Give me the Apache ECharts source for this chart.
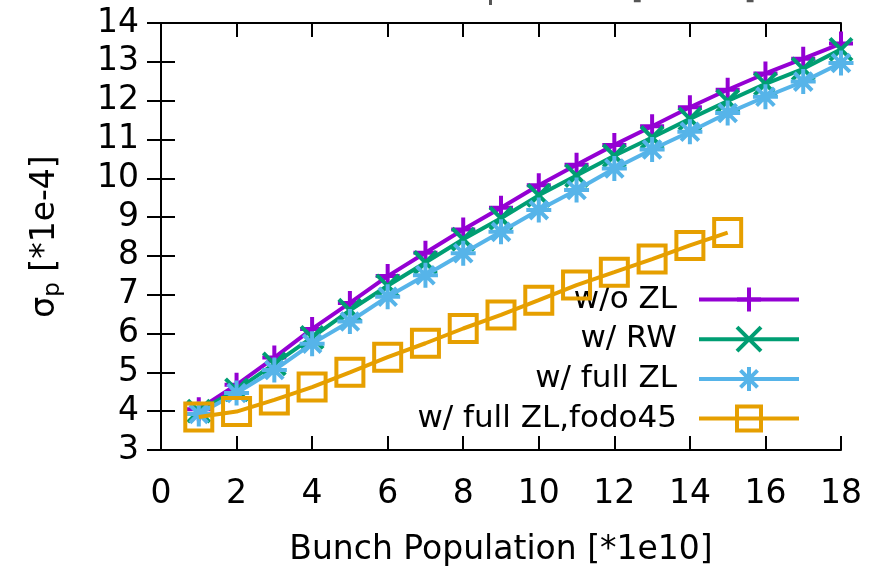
<!DOCTYPE html>
<html>
<head>
<meta charset="utf-8">
<script src="https://cdn.jsdelivr.net/npm/echarts@6/dist/echarts.min.js"></script>
<style>
  html, body { margin: 0; padding: 0; background: #fff; }
  #chart { width: 877px; height: 566px; }
</style>
</head>
<body>
<div id="chart"></div>
<script>
// Bunch population (units of 1e10)
const population = [1, 2, 3, 4, 5, 6, 7, 8, 9, 10, 11, 12, 13, 14, 15, 16, 17, 18];
const populationFodo = [1, 2, 3, 4, 5, 6, 7, 8, 9, 10, 11, 12, 13, 14, 15];

// Energy spread sigma_p (units of 1e-4)
const sigmaNoZL = [4.05, 4.68, 5.38, 6.12, 6.79, 7.48, 8.08, 8.68, 9.24, 9.82, 10.35, 10.86, 11.34, 11.83, 12.28, 12.70, 13.08, 13.47];
const sigmaRW = [4.00, 4.55, 5.22, 5.90, 6.60, 7.23, 7.83, 8.43, 8.97, 9.56, 10.07, 10.58, 11.05, 11.53, 11.99, 12.43, 12.82, 13.32];
const sigmaFullZL = [3.93, 4.47, 5.06, 5.74, 6.31, 6.95, 7.50, 8.07, 8.62, 9.18, 9.70, 10.25, 10.74, 11.20, 11.68, 12.10, 12.49, 12.97];
const sigmaFodo45 = [3.85, 3.99, 4.29, 4.62, 5.00, 5.39, 5.75, 6.13, 6.48, 6.86, 7.25, 7.58, 7.92, 8.27, 8.60];

const seriesNames = ['w/o ZL', 'w/ RW', 'w/ full ZL', 'w/ full ZL,fodo45'];
const xTicks = [0, 2, 4, 6, 8, 10, 12, 14, 16, 18];
const yTicks = [3, 4, 5, 6, 7, 8, 9, 10, 11, 12, 13, 14];

const FONT = 'DejaVu Sans';
const FS = 33;
const colors = ['#9400d3', '#009e73', '#56b4e9', '#e69f00'];
const symbols = [
  'path://M0,-1L0,1M-1,0L1,0',
  'path://M-1,-1L1,1M-1,1L1,-1',
  'path://M0,-1L0,1M-1,0L1,0M-0.71,-0.71L0.71,0.71M-0.71,0.71L0.71,-0.71',
  'path://M-1,-1L1,-1L1,1L-1,1Z'
];
const symbolSizes = [24, 22, 25, 27];

function pairs(xs, ys) {
  return xs.map((x, i) => [x, ys[i]]);
}
const seriesData = [
  pairs(population, sigmaNoZL),
  pairs(population, sigmaRW),
  pairs(population, sigmaFullZL),
  pairs(populationFodo, sigmaFodo45)
];

const axisLine = { show: true, lineStyle: { color: '#000', width: 2 } };
const axisTick = { show: true, inside: true, length: 14, lineStyle: { color: '#000', width: 2 } };

const chart = echarts.init(document.getElementById('chart'), null, { renderer: 'canvas' });

chart.setOption({
  backgroundColor: '#fff',
  animation: false,
  textStyle: { fontFamily: FONT },
  grid: { left: 161, right: 36, top: 23, bottom: 116, containLabel: false, outerBoundsMode: 'none' },
  graphic: [{
    type: 'text',
    left: 333,
    top: -27,
    style: { text: 'Bunch Population [*1e10]', font: FS + 'px "DejaVu Sans"', fill: '#555' }
  }],
  xAxis: [{
    type: 'value',
    min: xTicks[0],
    max: xTicks[xTicks.length - 1],
    interval: xTicks[1] - xTicks[0],
    position: 'bottom',
    name: 'Bunch Population [*1e10]',
    nameLocation: 'middle',
    nameGap: 84,
    nameTextStyle: { fontSize: FS, fontFamily: FONT, color: '#000' },
    axisLine: axisLine,
    axisTick: axisTick,
    axisLabel: { fontSize: FS, fontFamily: FONT, color: '#000', margin: 28 },
    splitLine: { show: false }
  }, {
    type: 'value',
    min: xTicks[0],
    max: xTicks[xTicks.length - 1],
    interval: xTicks[1] - xTicks[0],
    position: 'top',
    axisLine: axisLine,
    axisTick: axisTick,
    axisLabel: { show: false },
    splitLine: { show: false }
  }],
  yAxis: [{
    type: 'value',
    min: yTicks[0],
    max: yTicks[yTicks.length - 1],
    interval: 1,
    position: 'left',
    name: '{a|σ}{s|p}{a| [*1e-4]}',
    nameLocation: 'middle',
    nameGap: 96,
    nameRotate: 90,
    nameTextStyle: {
      color: '#000',
      rich: {
        a: { fontSize: FS, fontFamily: FONT, color: '#000', lineHeight: 40, verticalAlign: 'middle' },
        s: { fontSize: 23, fontFamily: FONT, color: '#000', lineHeight: 22, verticalAlign: 'bottom' }
      }
    },
    axisLine: axisLine,
    axisTick: axisTick,
    axisLabel: { fontSize: FS, fontFamily: FONT, color: '#000', margin: 22 },
    splitLine: { show: false }
  }, {
    type: 'value',
    min: yTicks[0],
    max: yTicks[yTicks.length - 1],
    interval: 1,
    position: 'right',
    axisLine: axisLine,
    axisTick: axisTick,
    axisLabel: { show: false },
    splitLine: { show: false }
  }],
  legend: {
    orient: 'vertical',
    right: 76,
    top: 284,
    align: 'right',
    itemWidth: 100,
    itemHeight: 30,
    itemGap: 8.7,
    padding: 0,
    selectedMode: false,
    data: seriesNames,
    lineStyle: { width: 4 },
    itemStyle: { borderWidth: 4 },
    textStyle: {
      fontSize: 31,
      fontFamily: FONT,
      color: '#000',
      lineHeight: 30,
      width: 290,
      align: 'right',
      padding: [0, 17, 0, 0]
    }
  },
  series: seriesNames.map((name, i) => ({
    name: name,
    type: 'line',
    data: seriesData[i],
    clip: false,
    symbol: symbols[i],
    symbolSize: symbolSizes[i],
    showAllSymbol: true,
    lineStyle: { color: colors[i], width: 4 },
    itemStyle: {
      color: i === 3 ? 'rgba(0,0,0,0)' : colors[i],
      borderColor: colors[i],
      borderWidth: 4
    },
    emphasis: { disabled: true },
    z: 2 + i
  }))
});
</script>
</body>
</html>
